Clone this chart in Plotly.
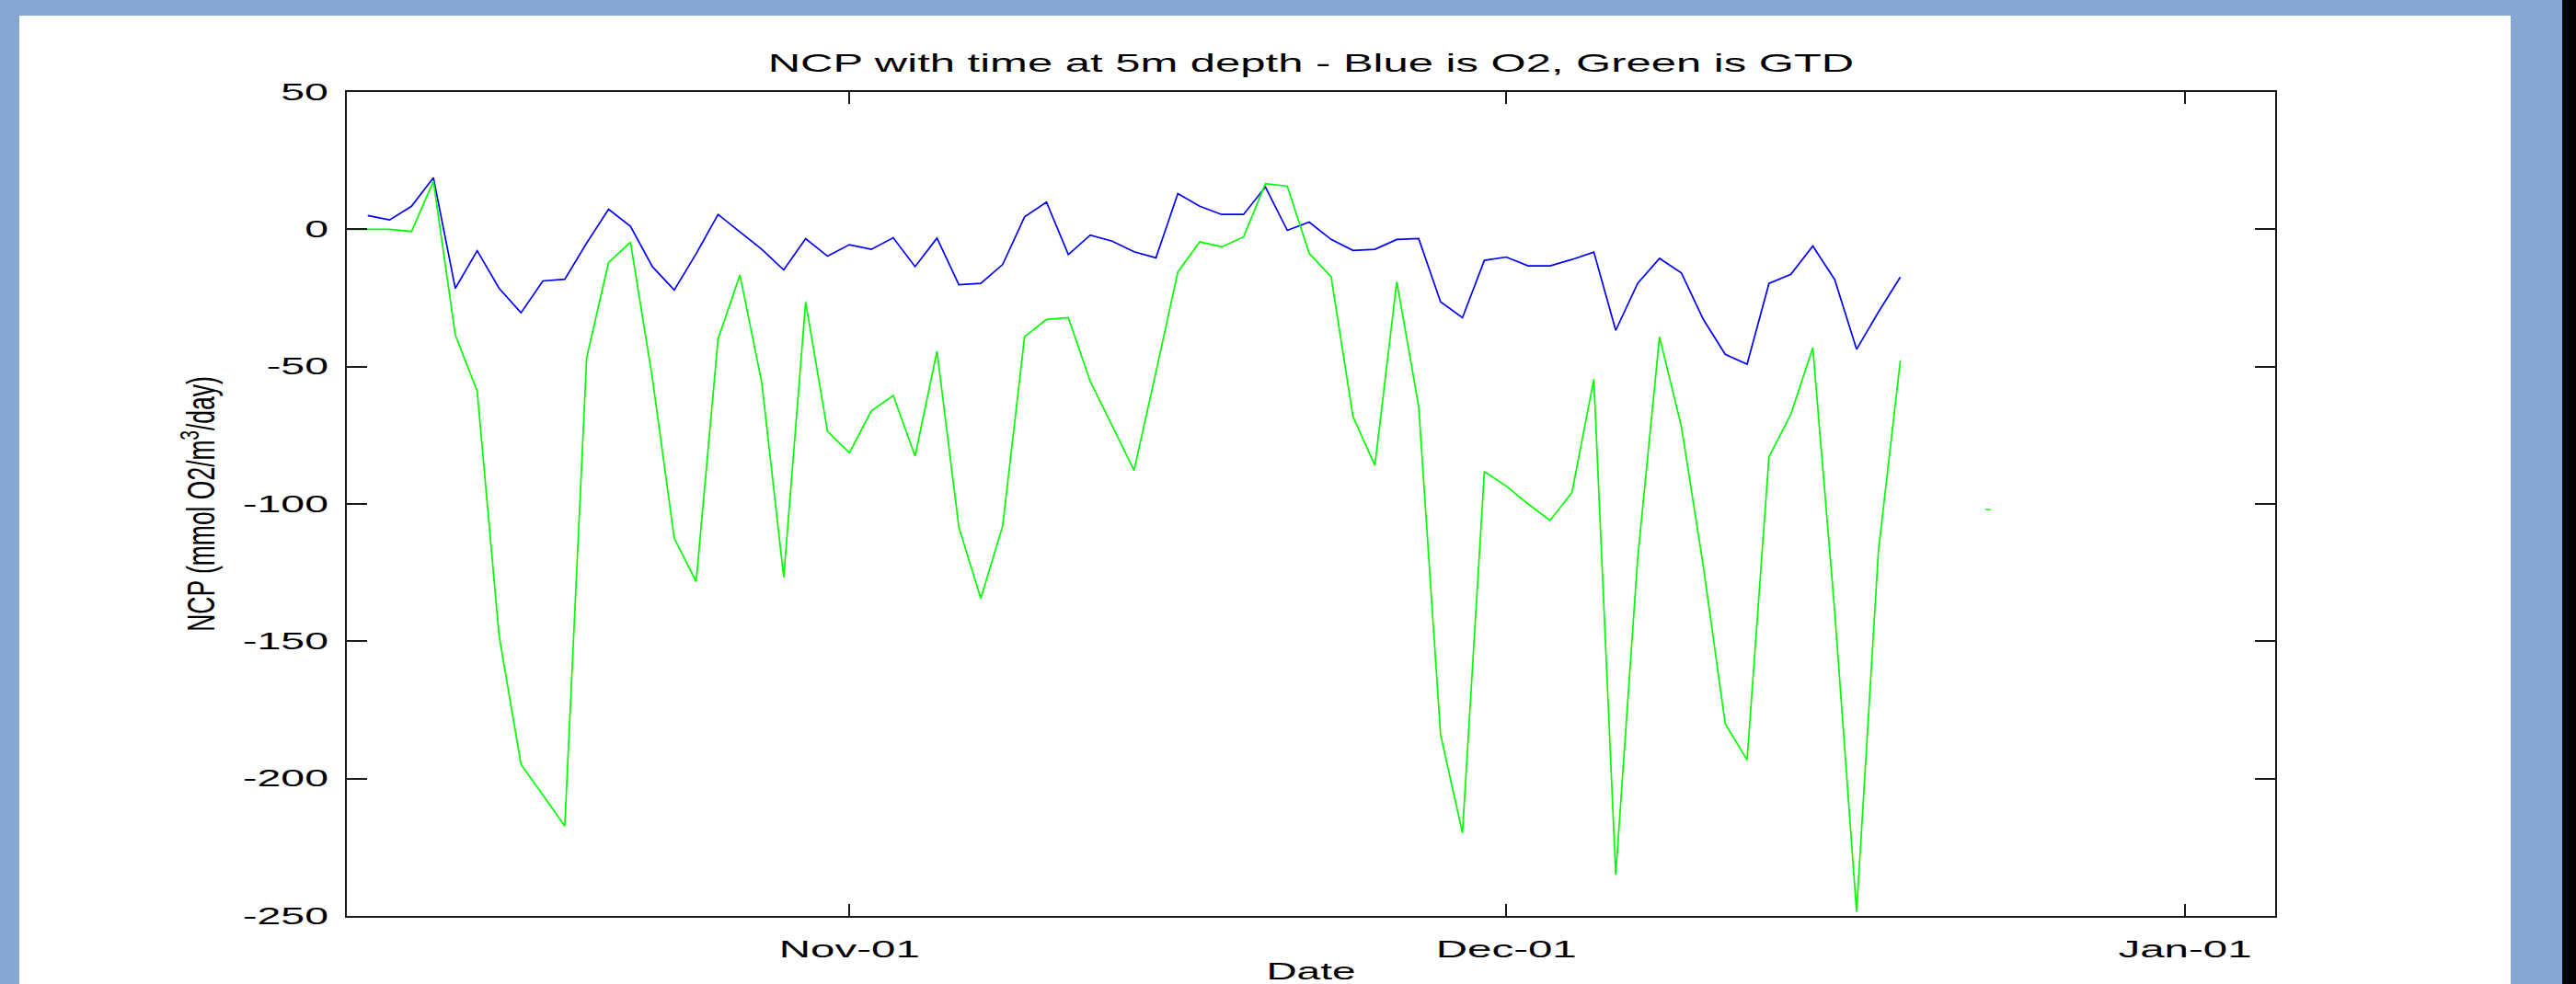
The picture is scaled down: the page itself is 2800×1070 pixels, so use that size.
import pandas as pd
import plotly.graph_objects as go

# ---------------- data ----------------
o2_start = "2001-10-10"          # first daily O2 estimate
o2_ncp = [5.0, 3.4, 8.4, 18.8, -21.5, -7.8, -21.5, -30.4, -18.8, -18.2, -5.0,
          7.3, 1.1, -13.6, -22.1, -8.9, 5.4, -1.1, -7.3, -14.8, -3.4, -9.8,
          -5.6, -7.3, -3.1, -13.6, -3.2, -20.2, -19.7, -12.8, 4.5, 9.9, -9.2,
          -2.1, -4.3, -8.2, -10.4, 13.0, 8.4, 5.4, 5.4, 15.4, -0.4, 2.6, -3.7,
          -7.7, -7.3, -3.7, -3.4, -26.4, -32.2, -11.3,
          -10.1, -13.3, -13.3, -11.0, -8.3, -36.8, -19.7, -10.6, -15.9, -32.8,
          -45.5, -49.1, -19.7, -16.4, -6.1, -18.3, -43.7, -30.1, -17.4]

gtd_start = "2001-10-09"         # first daily GTD estimate
gtd_ncp = [0.0, 0.0, 0.0, -0.8, 17.5, -38.5, -59.0, -148.0, -194.8, -206.0,
           -217.3, -46.7, -12.1, -4.7, -54.2, -112.5, -128.3, -40.0, -16.6,
           -56.0, -126.7, -26.5, -73.6,
           -81.4, -66.1, -60.5, -82.6, -44.4, -108.5, -134.4, -108.0, -39.1,
           -32.8, -32.2, -55.4, -71.5, -87.8, -52.0, -15.5, -4.6, -6.4, -2.8,
           16.6, 15.7, -8.8, -17.3, -68.2, -86.0, -19.1, -64.5, -184.0, -219.8,
           -88.2,
           -93.5, -100.0, -106.0, -95.8, -54.6, -235.0, -120.0, -39.2, -71.9,
           -122.7, -180.0, -193.2, -82.8, -67.3, -43.1, -139.0, -248.5, -117.0,
           -47.7]

gtd_isolated_dates = ["2001-12-23"]
gtd_isolated_ncp = [-102.0]

x_tick_dates = ["2001-11-01", "2001-12-01", "2002-01-01"]
x_tick_labels = ["Nov-01", "Dec-01", "Jan-01"]
y_tick_values = [-250, -200, -150, -100, -50, 0, 50]
y_tick_labels = ["-250", "-200", "-150", "-100", "-50", "0", "50"]

o2_dates = pd.date_range(o2_start, periods=len(o2_ncp), freq="D")
gtd_dates = pd.date_range(gtd_start, periods=len(gtd_ncp), freq="D")

# ---------------- figure ----------------
FONT = "Liberation Sans, Arial, Helvetica, sans-serif"
AX = "#1a1a1a"

fig = go.Figure()
fig.add_trace(go.Scatter(x=o2_dates, y=o2_ncp, mode="lines", name="O2",
                         line=dict(color="#0000FF", width=1.7)))
fig.add_trace(go.Scatter(x=gtd_dates, y=gtd_ncp, mode="lines", name="GTD",
                         line=dict(color="#00FF00", width=1.7)))
fig.add_trace(go.Scatter(x=gtd_isolated_dates, y=gtd_isolated_ncp, mode="markers",
                         name="GTD", marker=dict(symbol="line-ew", size=4, color="#00FF00",
                                                 line=dict(color="#00FF00", width=1.5))))

L, R, T, B = 377, 327, 100, 74
W, H = 2800, 1070
pw, ph = W - L - R, H - T - B


def px_x(p):
    return (p - L) / pw


def px_y(p):
    return (H - B - p) / ph


fig.update_layout(
    width=W, height=H,
    margin=dict(l=L, r=R, t=T, b=B, pad=0),
    paper_bgcolor="#85A7D1",
    plot_bgcolor="#FFFFFF",
    showlegend=False,
    font=dict(family=FONT, color="#000000", size=25),
    title=dict(text="NCP with time at 5m depth - Blue is O2, Green is GTD",
               font=dict(family=FONT, size=28, color="#000000"),
               x=0.5, xref="paper", xanchor="center",
               y=1 - 68 / H, yref="container", yanchor="middle"),
    shapes=[
        dict(type="rect", xref="paper", yref="paper", layer="below",
             x0=px_x(21), x1=px_x(2729), y0=px_y(1075), y1=px_y(17),
             fillcolor="#FFFFFF", line=dict(width=0)),
        dict(type="rect", xref="paper", yref="paper", layer="below",
             x0=px_x(2785), x1=px_x(2805), y0=px_y(1075), y1=px_y(-5),
             fillcolor="#000000", line=dict(width=0)),
    ],
)

fig.update_xaxes(
    type="date",
    range=["2001-10-09 01:06", "2002-01-05 02:50"],
    tickmode="array", tickvals=x_tick_dates, ticktext=x_tick_labels,
    ticks="inside", ticklen=13, tickwidth=1.5, tickcolor=AX,
    showline=True, linewidth=2, linecolor=AX, mirror="allticks",
    showgrid=False, zeroline=False,
    tickfont=dict(family=FONT, size=25, color="#000000"),
    ticklabelstandoff=13,
    title=dict(text="Date", font=dict(family=FONT, size=25, color="#000000"), standoff=38),
    automargin=False,
)
fig.update_yaxes(
    range=[-250, 50],
    tickmode="array", tickvals=y_tick_values, ticktext=y_tick_labels,
    ticks="inside", ticklen=22, tickwidth=1.5, tickcolor=AX,
    showline=True, linewidth=2, linecolor=AX, mirror="allticks",
    showgrid=False, zeroline=False,
    tickfont=dict(family=FONT, size=25, color="#000000"),
    ticklabelstandoff=13,
    title=dict(text="NCP (mmol O2/m<sup>3</sup>/day)",
               font=dict(family=FONT, size=26.5, color="#000000"), standoff=72),
    automargin=False,
)

# The reference image is horizontally stretched; widen the text glyphs to match.
post_js = """
var gd = document.getElementById('{plot_id}');
function stretch(sel, f, vertical) {
  var nodes = gd.querySelectorAll(sel);
  for (var i = 0; i < nodes.length; i++) {
    var t = nodes[i];
    var bb = t.getBBox();
    var tr = t.getAttribute('transform') || '';
    if (vertical) {
      var cy = bb.y + bb.height / 2;
      t.setAttribute('transform', tr + ' translate(0,' + cy + ') scale(1,' + f + ') translate(0,' + (-cy) + ')');
    } else {
      var anc = t.getAttribute('text-anchor') || 'start';
      var ax = anc === 'end' ? bb.x + bb.width : (anc === 'middle' ? bb.x + bb.width / 2 : bb.x);
      t.setAttribute('transform', tr + ' translate(' + ax + ',0) scale(' + f + ',1) translate(' + (-ax) + ',0)');
    }
  }
}
stretch('.xtick text', 1.9, false);
stretch('.ytick text', 1.86, false);
stretch('text.gtitle', 1.75, false);
stretch('text.xtitle', 1.84, false);
stretch('text.ytitle', 1.58, true);
"""

fig.write_html("out.html", post_script=post_js)
